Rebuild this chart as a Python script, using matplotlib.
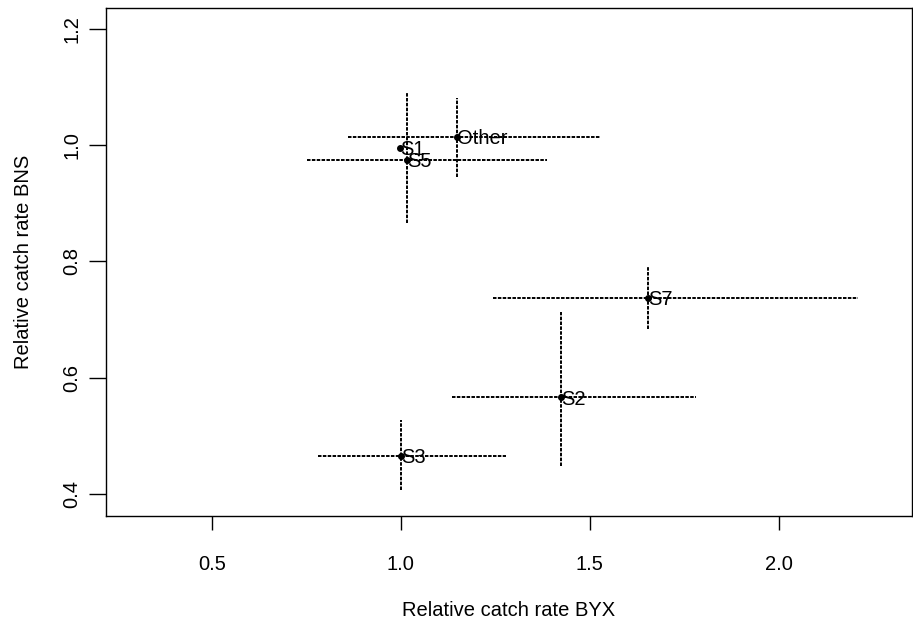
"""
Relative catch rate BYX vs BNS with confidence intervals
"""
import matplotlib
matplotlib.use('Agg')
import matplotlib.pyplot as plt

plt.rcParams['font.family'] = ['Liberation Sans', 'DejaVu Sans']

# point estimates
labels = ['S1', 'S5', 'Other', 'S7', 'S2', 'S3']
byx = [0.997, 1.016, 1.148, 1.653, 1.423, 1.000]
bns = [0.995, 0.975, 1.014, 0.737, 0.566, 0.465]

# confidence intervals (None = not drawn)
byx_lo = [None, 0.751, 0.860, 1.243, 1.135, 0.780]
byx_hi = [None, 1.386, 1.526, 2.209, 1.780, 1.278]
bns_lo = [None, 0.866, 0.945, 0.684, 0.448, 0.407]
bns_hi = [None, 1.091, 1.081, 0.792, 0.713, 0.527]

xticks = [0.5, 1.0, 1.5, 2.0]
yticks = [0.4, 0.6, 0.8, 1.0, 1.2]

fig = plt.figure(figsize=(9.13, 6.22), dpi=100)
ax = fig.add_axes([106 / 913, 1 - 516 / 622, 806 / 913, 508 / 622])

ls = (0, (1.8, 0.7))
for i in range(len(labels)):
    if byx_lo[i] is not None:
        ax.plot([byx_lo[i], byx_hi[i]], [bns[i], bns[i]], color='black',
                linewidth=1.4, linestyle=ls)
        ax.plot([byx[i], byx[i]], [bns_lo[i], bns_hi[i]], color='black',
                linewidth=1.4, linestyle=ls)

ax.plot(byx, bns, 'o', color='black', markersize=4, linestyle='none')
for i, lab in enumerate(labels):
    ax.text(byx[i], bns[i] - 0.003, lab, ha='left', va='center', fontsize=14.5)

ax.set_xlim(0.22, 2.352)
ax.set_ylim(0.362, 1.236)
ax.set_xticks(xticks)
ax.set_xticklabels([f'{v:.1f}' for v in xticks])
ax.set_yticks(yticks)
ax.set_yticklabels([f'{v:.1f}' for v in yticks], rotation=90, va='center')

ax.tick_params(axis='x', length=10, width=1, pad=18, labelsize=14.5)
ax.tick_params(axis='y', length=12, width=1, pad=6, labelsize=14.5)
for s in ax.spines.values():
    s.set_linewidth(1.0)

ax.set_xlabel('Relative catch rate BYX', fontsize=14.5)
ax.xaxis.set_label_coords(0.5, -(610 - 516) / 508)
ax.set_ylabel('Relative catch rate BNS', fontsize=14.5)
ax.yaxis.set_label_coords(-(106 - 24) / 806, 0.5)
ax.yaxis.label.set_va('center')
ax.xaxis.label.set_va('center')

plt.savefig('out.png', dpi=100)
plt.close()
